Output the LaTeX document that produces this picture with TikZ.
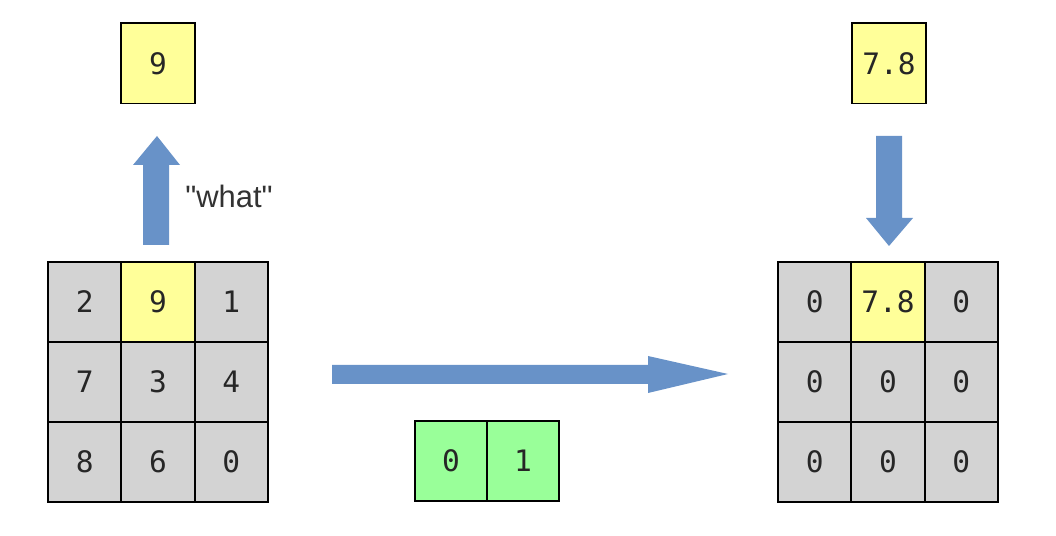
\documentclass[tikz,border=0pt]{standalone}
\usepackage{fontspec}
\setmainfont{DejaVu Sans}
\newfontfamily\digitfont{DejaVu Sans Mono}
\newfontfamily\whatfont{Liberation Sans}[Ligatures=TeXOff]
\definecolor{cellgray}{RGB}{211,211,211}
\definecolor{cellyellow}{RGB}{255,255,153}
\definecolor{cellgreen}{RGB}{153,255,153}
\definecolor{arrowblue}{RGB}{104,146,200}
\begin{document}
\begin{tikzpicture}[x=0.025cm,y=-0.025cm,
  cell/.style={minimum width=1.833cm,minimum height=2cm,inner sep=0pt,outer sep=0pt,font=\digitfont\fontsize{21}{24}\selectfont,text=black!85},
  gcell/.style={cell,fill=cellgray},
  ycell/.style={cell,fill=cellyellow},
  grcell/.style={cell,fill=cellgreen,minimum width=1.8cm},
  border/.style={draw=black,line width=1.4pt},
  fatarrow/.style={fill=arrowblue,draw=none}]
\useasboundingbox (0,0) rectangle (1056,536);
% left grid
\node[gcell] (l11) at (84.7,302) {2};
\node[ycell] (l12) at (158,302) {9};
\node[gcell] (l13) at (231.3,302) {1};
\node[gcell] (l21) at (84.7,382) {7};
\node[gcell] (l22) at (158,382) {3};
\node[gcell] (l23) at (231.3,382) {4};
\node[gcell] (l31) at (84.7,462) {8};
\node[gcell] (l32) at (158,462) {6};
\node[gcell] (l33) at (231.3,462) {0};
% left top box
\node[ycell] (ltop) at (158,63.5) {9};
% right grid
\node[gcell] (r11) at (814.7,302) {0};
\node[ycell] (r12) at (888,302) {7.8};
\node[gcell] (r13) at (961.3,302) {0};
\node[gcell] (r21) at (814.7,382) {0};
\node[gcell] (r22) at (888,382) {0};
\node[gcell] (r23) at (961.3,382) {0};
\node[gcell] (r31) at (814.7,462) {0};
\node[gcell] (r32) at (888,462) {0};
\node[gcell] (r33) at (961.3,462) {0};
% right top box
\node[ycell] (rtop) at (889,63.5) {7.8};
% green boxes
\node[grcell] (g1) at (451,461) {0};
\node[grcell] (g2) at (523,461) {1};
% borders drawn after all fills
\foreach \n in {l11,l12,l13,l21,l22,l23,l31,l32,l33,ltop,r11,r12,r13,r21,r22,r23,r31,r32,r33,rtop,g1,g2}
  \draw[border] (\n.north west) rectangle (\n.south east);
% up arrow
\fill[fatarrow] (143,245) -- (143,165) -- (133,165) -- (157,136) -- (180,165) -- (169,165) -- (169,245) -- cycle;
\node[anchor=west,font=\whatfont\fontsize{22}{26}\selectfont,text=black!80,inner sep=0pt] (what) at (185,196) {"what"};
% horizontal arrow
\fill[fatarrow] (332,365) -- (648,365) -- (648,356) -- (728,374) -- (648,393) -- (648,384) -- (332,384) -- cycle;
% down arrow
\fill[fatarrow] (876,136) -- (902,136) -- (902,218) -- (913,218) -- (889,246) -- (866,218) -- (876,218) -- cycle;
\end{tikzpicture}
\end{document}
